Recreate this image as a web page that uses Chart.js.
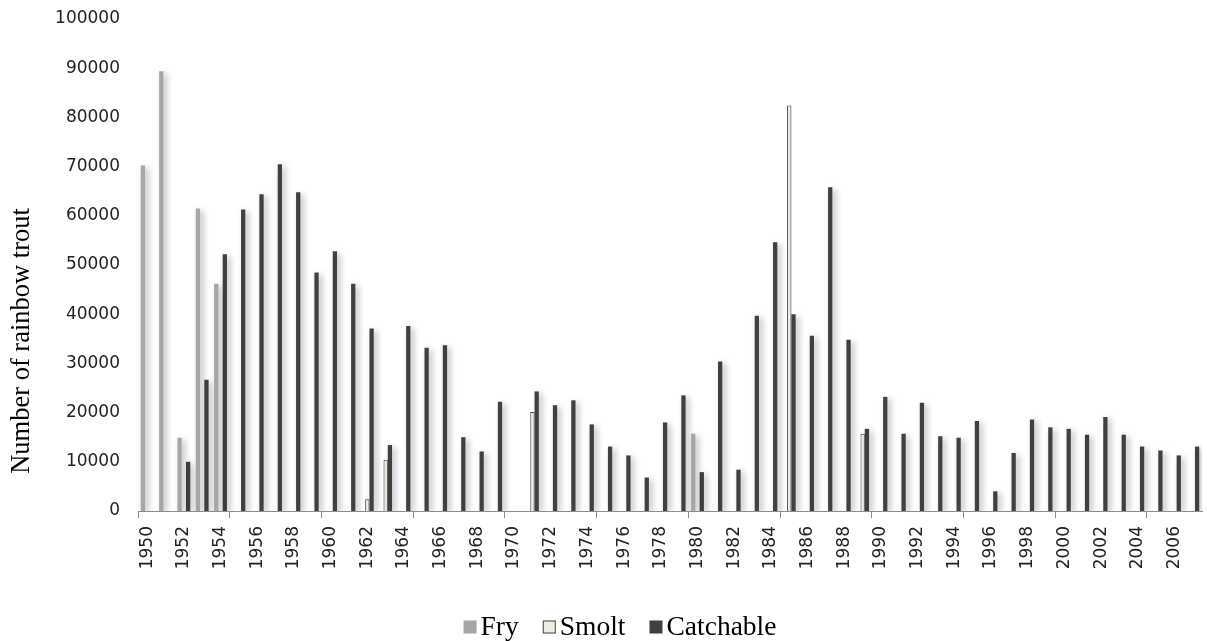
<!DOCTYPE html>
<html>
<head>
<meta charset="utf-8">
<script src="https://cdn.jsdelivr.net/npm/chart.js@4.4.0/dist/chart.umd.min.js"></script>
<style>
  html, body { margin: 0; padding: 0; background: #fff; }
  #wrap { width: 1207px; height: 641px; position: relative; }
</style>
</head>
<body>
<div id="wrap"><canvas id="c" width="1207" height="641"></canvas></div>
<script>
const years = ['1950','1951','1952','1953','1954','1955','1956','1957','1958','1959',
  '1960','1961','1962','1963','1964','1965','1966','1967','1968','1969',
  '1970','1971','1972','1973','1974','1975','1976','1977','1978','1979',
  '1980','1981','1982','1983','1984','1985','1986','1987','1988','1989',
  '1990','1991','1992','1993','1994','1995','1996','1997','1998','1999',
  '2000','2001','2002','2003','2004','2005','2006','2007'];

const fry = [70200, 89400, 14900, 61500, 46200, null, null, null, null, null,
  null, null, null, null, null, null, null, null, null, null,
  null, null, null, null, null, null, null, null, null, null,
  15700, null, null, null, null, null, null, null, null, null,
  null, null, null, null, null, null, null, null, null, null,
  null, null, null, null, null, null, null, null];

const smolt = [null, null, null, null, null, null, null, null, null, null,
  null, null, 2400, 10400, null, null, null, null, null, null,
  null, 20100, null, null, null, null, null, null, null, null,
  null, null, null, null, null, 82400, null, null, null, 15700,
  null, null, null, null, null, null, null, null, null, null,
  null, null, null, null, null, null, null, null];

const catchable = [null, null, 10000, 26700, 52200, 61300, 64400, 70500, 64800, 48500,
  52800, 46200, 37100, 13400, 37600, 33200, 33700, 15000, 12100, 22200,
  null, 24300, 21500, 22500, 17600, 13100, 11300, 6800, 18000, 23500,
  7900, 30400, 8400, 39700, 54600, 40000, 35600, 65800, 34800, 16700,
  23200, 15700, 22000, 15200, 14900, 18300, 4000, 11800, 18600, 17000,
  16700, 15500, 19100, 15500, 13100, 12300, 11300, 13100];

const seriesNames = ['Fry', 'Smolt', 'Catchable'];
const yTitle = 'Number of rainbow trout';

const shadowPlugin = {
  id: 'barShadow',
  beforeDatasetsDraw(chart) {
    const ctx = chart.ctx;
    ctx.save();
    ctx.shadowColor = 'rgba(0,0,0,0.3)';
    ctx.shadowBlur = 6;
    ctx.shadowOffsetX = 3;
    ctx.shadowOffsetY = 2;
  },
  afterDatasetsDraw(chart) {
    chart.ctx.restore();
  }
};

const yTitlePlugin = {
  id: 'yTitle',
  afterDraw(chart) {
    const ctx = chart.ctx;
    ctx.save();
    ctx.translate(22, 341);
    ctx.rotate(-Math.PI / 2);
    ctx.font = '26.5px "Liberation Serif"';
    ctx.fillStyle = '#000';
    ctx.textAlign = 'center';
    ctx.textBaseline = 'middle';
    ctx.fillText(yTitle, 0, 0);
    ctx.restore();
  }
};

const legendPlugin = {
  id: 'customLegend',
  afterDraw(chart) {
    const ctx = chart.ctx;
    ctx.save();
    ctx.font = '27.5px "Liberation Serif"';
    ctx.textBaseline = 'middle';
    ctx.textAlign = 'left';
    const box = 13, gapText = 4, gapItem = 24;
    const ds = chart.data.datasets;
    const widths = ds.map(d => box + gapText + ctx.measureText(d.label).width);
    const total = widths.reduce((a, b) => a + b, 0) + gapItem * (ds.length - 1);
    let x = 620 - total / 2;
    const cy = 627;
    ds.forEach((d, i) => {
      ctx.fillStyle = d.backgroundColor;
      ctx.fillRect(x, cy - box / 2, box, box);
      if (d.borderWidth) {
        ctx.strokeStyle = d.borderColor;
        ctx.lineWidth = 1;
        ctx.strokeRect(x + 0.5, cy - box / 2 + 0.5, box - 1, box - 1);
      }
      ctx.fillStyle = '#000';
      ctx.fillText(d.label, x + box + gapText, cy + 1);
      x += widths[i] + gapItem;
    });
    ctx.restore();
  }
};

new Chart(document.getElementById('c'), {
  type: 'bar',
  data: {
    labels: years,
    datasets: [
      { label: seriesNames[0], data: fry, backgroundColor: '#a6a6a6', borderWidth: 0 },
      { label: seriesNames[1], data: smolt, backgroundColor: '#eeece1', borderColor: '#404040', borderWidth: 1 },
      { label: seriesNames[2], data: catchable, backgroundColor: '#404040', borderWidth: 0 }
    ]
  },
  options: {
    responsive: false,
    animation: false,
    devicePixelRatio: 1,
    layout: { padding: { left: 0, right: 5, top: 19, bottom: 40 } },
    datasets: { bar: { categoryPercentage: 0.7, barPercentage: 1.0 } },
    plugins: {
      legend: { display: false },
      tooltip: { enabled: false }
    },
    scales: {
      x: {
        afterFit(s) { s.height = 90; s.paddingLeft = 0; s.paddingRight = 0; },
        grid: {
          display: true,
          drawOnChartArea: false,
          drawTicks: true,
          tickLength: 7,
          offset: true,
          color: (c) => (c.index % 5 === 0 ? '#8c8c8c' : 'rgba(0,0,0,0)')
        },
        border: { display: true, color: '#8c8c8c', width: 1 },
        ticks: {
          autoSkip: false,
          maxRotation: 90,
          minRotation: 90,
          padding: 8,
          color: '#222',
          font: { family: '"DejaVu Sans"', size: 17 },
          callback: function(v, i) { return i % 2 === 0 ? years[i] : ''; }
        }
      },
      y: {
        min: 0,
        max: 100000,
        afterFit(s) { s.width = 138; s.paddingTop = 0; s.paddingBottom = 0; },
        grid: { display: false, drawTicks: false },
        border: { display: false },
        ticks: {
          stepSize: 10000,
          padding: 18,
          color: '#222',
          font: { family: '"DejaVu Sans"', size: 17 },
          callback: (v) => String(v)
        }
      }
    }
  },
  plugins: [shadowPlugin, yTitlePlugin, legendPlugin]
});
</script>
</body>
</html>
